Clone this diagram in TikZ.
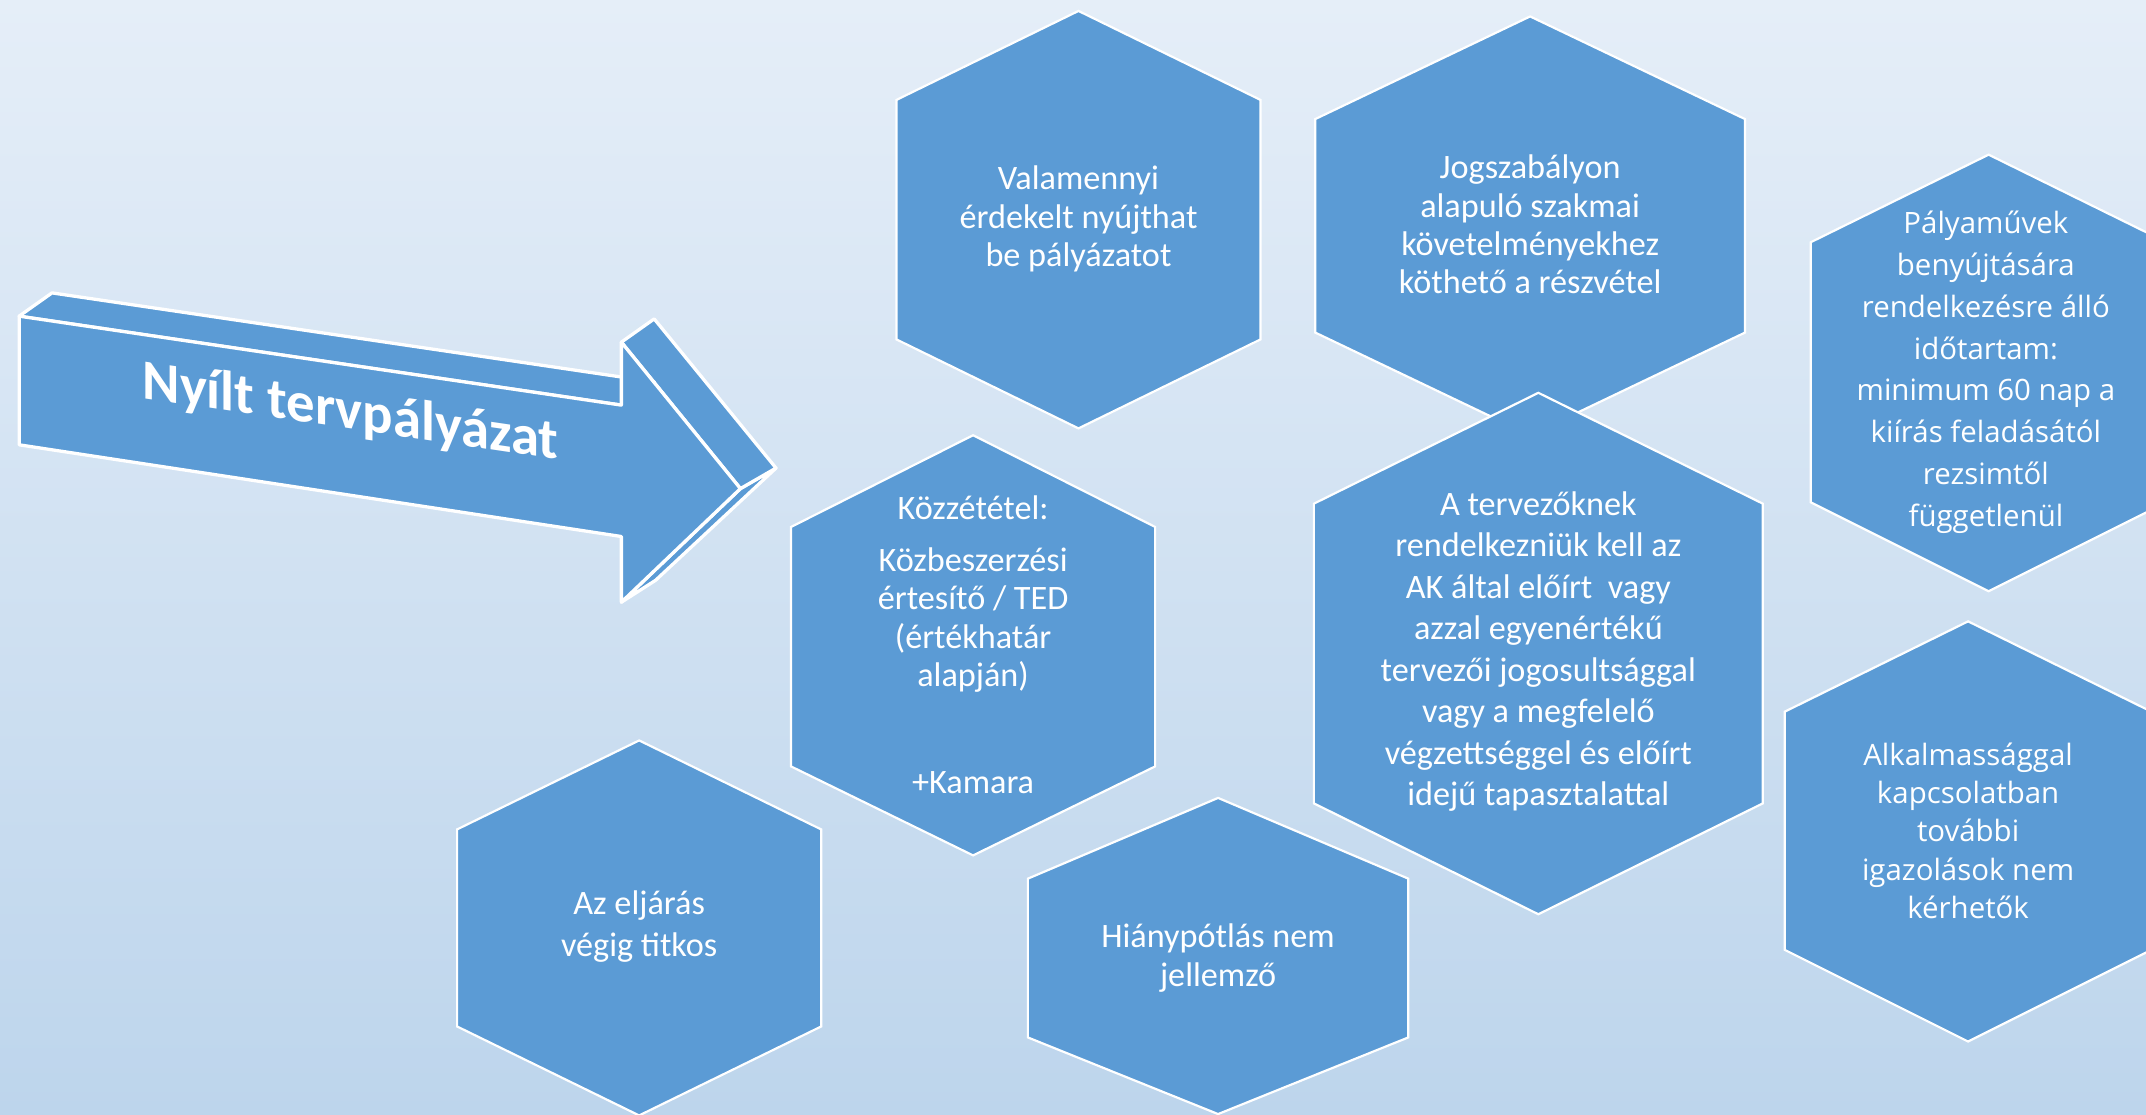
\documentclass[tikz,border=0pt]{standalone}
\usepackage{fontspec}
\setmainfont{Carlito}
\newfontfamily\widefont{Open Sans}
\definecolor{hexblue}{HTML}{5B9BD5}
\definecolor{bgtop}{HTML}{E5EEF8}
\definecolor{bgbot}{HTML}{BDD5EC}
\newcommand\hexa[6]{\draw[hex] (#1,#2) -- ({#1+#3},#4) -- ({#1+#3},#5) -- (#1,#6) -- ({#1-#3},#5) -- ({#1-#3},#4) -- cycle;}
\begin{document}
\begin{tikzpicture}[x=1pt,y=-1pt,
  hex/.style={fill=hexblue, draw=white, line width=1.6pt, line join=miter},
  hxt/.style={text=white, align=center, inner sep=0pt, font=\fontsize{25}{28}\selectfont},
  wxt/.style={text=white, align=center, inner sep=0pt, font=\widefont\fontsize{21.5}{28}\selectfont},
  arrowface/.style={fill=hexblue, draw=white, line width=2.4pt, line join=round}]
\useasboundingbox (0,0) rectangle (1568,814);
\shade[top color=bgtop, bottom color=bgbot] (0,0) rectangle (1568,814);

% 3D arrow
\coordinate (p1) at (14,231);  \coordinate (q1) at (38,214);
\coordinate (p2) at (454,296); \coordinate (q2) at (478,279);
\coordinate (p3) at (454,250); \coordinate (q3) at (478,233);
\coordinate (p4) at (541,357); \coordinate (q4) at (567,342);
\coordinate (p5) at (454,440); \coordinate (q5) at (479,424);
\coordinate (p6) at (454,392);
\coordinate (p7) at (14,325);
\draw[arrowface] (p4) -- (q4) -- (q5) -- (p5) -- cycle;
\draw[arrowface] (p3) -- (q3) -- (q4) -- (p4) -- cycle;
\draw[arrowface] (p1) -- (q1) -- (q2) -- (p2) -- cycle;
\draw[arrowface] (p1) -- (p2) -- (p3) -- (p4) -- (p5) -- (p6) -- (p7) -- cycle;
\node[text=white, inner sep=0pt, font=\bfseries\fontsize{41.5}{41.5}\selectfont, yslant=-0.148] (title) at (256,302) {Nyílt tervpályázat};

% hexagons
\hexa{788}{8}{133}{73}{248}{313}
\node[hxt] (hA) at (788,160) {Valamennyi\\érdekelt nyújthat\\be pályázatot};

\hexa{1118}{12}{157}{87}{243}{318}
\node[hxt] (hB) at (1118,164) {Jogszabályon\\alapuló szakmai\\követelményekhez\\köthető a részvétel};

\hexa{1453}{113}{130}{177}{367}{432}
\node[wxt, font=\widefont\fontsize{21.5}{30.6}\selectfont] (hC) at (1451,272) {Pályaművek\\benyújtására\\rendelkezésre álló\\időtartam:\\minimum 60 nap a\\kiírás feladásától\\rezsimtől\\függetlenül};

\hexa{1124}{287}{164}{368}{587}{668}
\node[hxt, font=\fontsize{25}{30.3}\selectfont] (hD) at (1124,476) {A tervezőknek\\rendelkezniük kell az\\AK által előírt\ \ vagy\\azzal egyenértékű\\tervezői jogosultsággal\\vagy a megfelelő\\végzettséggel és előírt\\idejű tapasztalattal};

\hexa{711}{318}{133}{385}{560}{625}
\node[hxt] (hE) at (711,471) {Közzététel:\\[10pt]Közbeszerzési\\értesítő / TED\\(értékhatár\\alapján)\\[50pt]+Kamara};

\hexa{467}{541}{133}{606}{750}{815}
\node[hxt, font=\fontsize{25}{30}\selectfont] (hF) at (467,677) {Az eljárás\\végig titkos};

\hexa{890}{583}{139}{642}{758}{814}
\node[hxt] (hG) at (890,700) {Hiánypótlás nem\\jellemző};

\hexa{1438}{454}{134}{520}{694}{761}
\node[wxt] (hH) at (1438,607) {Alkalmassággal\\kapcsolatban\\további\\igazolások nem\\kérhetők};
\end{tikzpicture}
\end{document}
